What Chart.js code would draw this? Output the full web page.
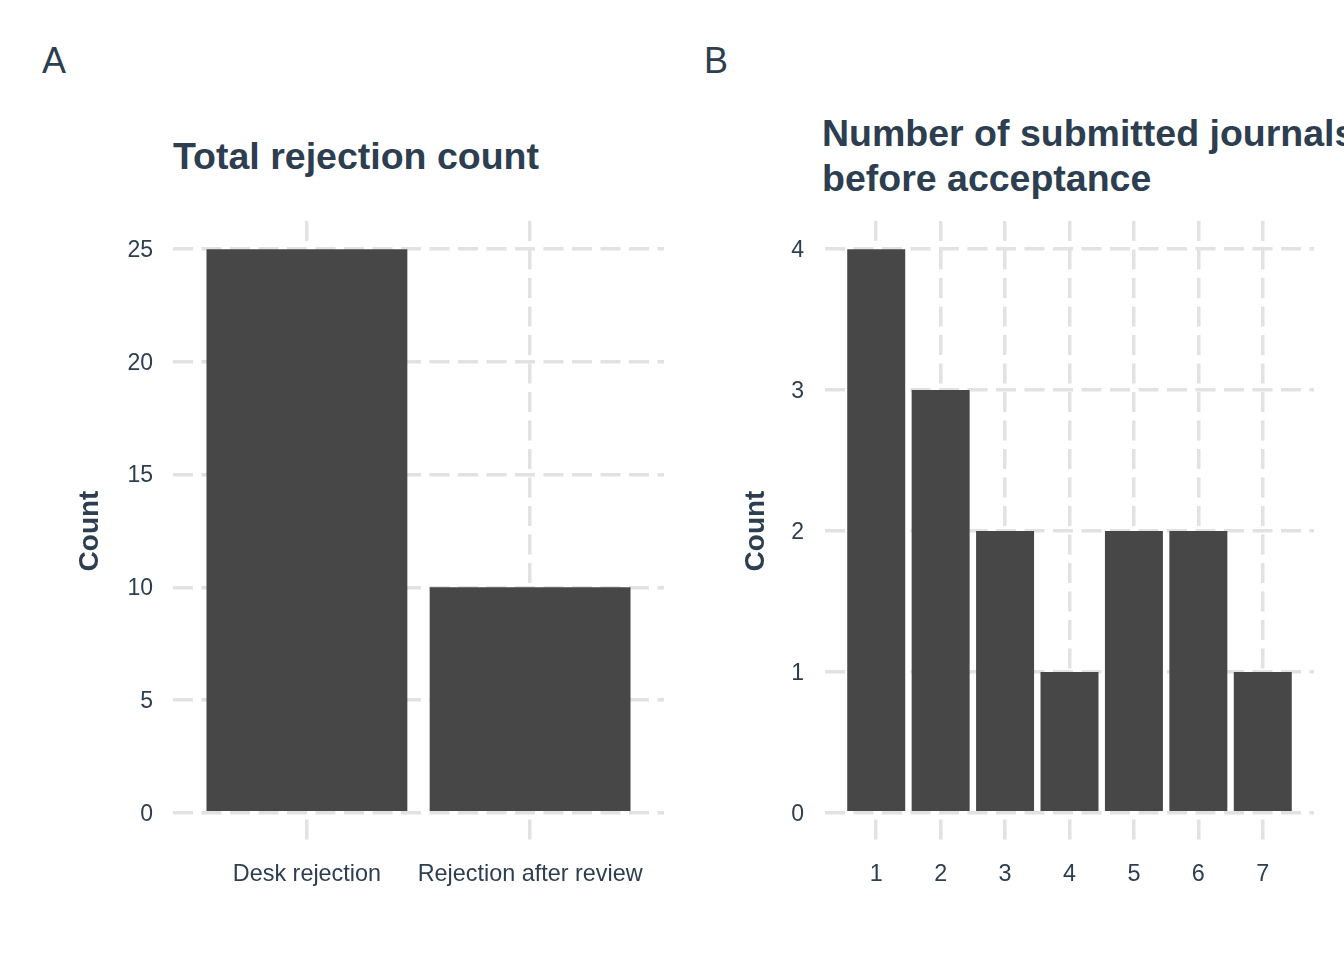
<!DOCTYPE html>
<html>
<head>
<meta charset="utf-8">
<title>Rejections</title>
<script src="https://cdn.jsdelivr.net/npm/chart.js@4.4.1/dist/chart.umd.min.js"></script>
<style>
  html, body { margin: 0; padding: 0; background: #fff; overflow: hidden; }
  body { width: 1344px; height: 960px; position: relative; font-family: "Liberation Sans", Arial, sans-serif; color: #2C3E50; }
  canvas { position: absolute; top: 0; }
  .tag { position: absolute; top: 43px; font-size: 36px; line-height: 36px; }
  .title { position: absolute; font-size: 37.5px; line-height: 45px; font-weight: bold; white-space: nowrap; }
</style>
</head>
<body>
<div class="tag" style="left:42px">A</div>
<div class="tag" style="left:704px">B</div>
<div class="title" style="left:173px; top:134px">Total rejection count</div>
<div class="title" style="left:822px; top:111px">Number of submitted journals<br>before acceptance</div>
<canvas id="chartA" width="672" height="960" style="left:0"></canvas>
<canvas id="chartB" width="672" height="960" style="left:672px"></canvas>
<script>
// data
const rejectionTypes = ['Desk rejection', 'Rejection after review'];
const rejectionCounts = [25, 10];
const rejectionTicks = [0, 5, 10, 15, 20, 25];

const journalsTried = [1, 2, 3, 4, 5, 6, 7];
const journalCounts = [4, 3, 2, 1, 2, 2, 1];
const journalTicks = [0, 1, 2, 3, 4];

const textColor = '#2C3E50';
const barColor = '#474747';
const gridColor = '#E2E2E2';

Chart.defaults.font.family = '"Liberation Sans", Arial, sans-serif';
Chart.defaults.color = textColor;

// ggplot style padding around the data (5% continuous, 0.6 for discrete)
function spread(lo, hi, frac) {
  const d = (hi - lo) * frac;
  return { min: lo - d, max: hi + d };
}

function panel(id, xs, ys, yTicks, xLabel, xRange, yRange, yAxisWidth, countX, tickPad, rightPad) {
  const ctx = document.getElementById(id).getContext('2d');
  return new Chart(ctx, {
    type: 'bar',
    data: {
      datasets: [{
        data: xs.map((x, i) => ({ x: x, y: ys[i] })),
        backgroundColor: barColor,
        borderWidth: 0,
        barPercentage: 0.9,
        categoryPercentage: 1
      }]
    },
    options: {
      responsive: false,
      animation: false,
      layout: { padding: { top: 221, left: 0, right: rightPad, bottom: 0 } },
      plugins: { legend: { display: false }, tooltip: { enabled: false } },
      scales: {
        x: {
          type: 'linear',
          min: xRange.min,
          max: xRange.max,
          offset: false,
          afterBuildTicks: s => { s.ticks = xs.map(v => ({ value: v })); },
          afterFit: s => { s.height = 119; },
          ticks: {
            callback: xLabel,
            autoSkip: false,
            maxRotation: 0,
            padding: 19.5,
            color: textColor,
            font: { size: 23.4 }
          },
          grid: { offset: false, drawTicks: false, color: gridColor, lineWidth: 3.5 },
          border: { display: false, dash: [20, 8.5] }
        },
        y: {
          type: 'linear',
          min: yRange.min,
          max: yRange.max,
          afterBuildTicks: s => { s.ticks = yTicks.map(v => ({ value: v })); },
          afterFit: s => { s.width = yAxisWidth; },
          ticks: { padding: tickPad, labelOffset: 1.5, color: textColor, font: { size: 23 } },
          grid: { drawTicks: false, color: gridColor, lineWidth: 3.5 },
          border: { display: false, dash: [20, 8.5] },
          title: {
            display: true,
            text: 'Count',
            color: textColor,
            font: { size: 28, weight: 'bold' },
            padding: { top: countX - 16.8, bottom: 0 }
          }
        }
      }
    }
  });
}

const idxA = rejectionTypes.map((c, i) => i + 1);
panel('chartA', idxA, rejectionCounts, rejectionTicks,
  v => rejectionTypes[v - 1],
  spread(0.4, 2.6, 0), spread(0, 25, 0.05),
  173, 90, 20, 8);

panel('chartB', journalsTried, journalCounts, journalTicks,
  v => String(v),
  spread(0.55, 7.45, 0.05), spread(0, 4, 0.05),
  153, 84, 21, 30);
</script>
</body>
</html>
